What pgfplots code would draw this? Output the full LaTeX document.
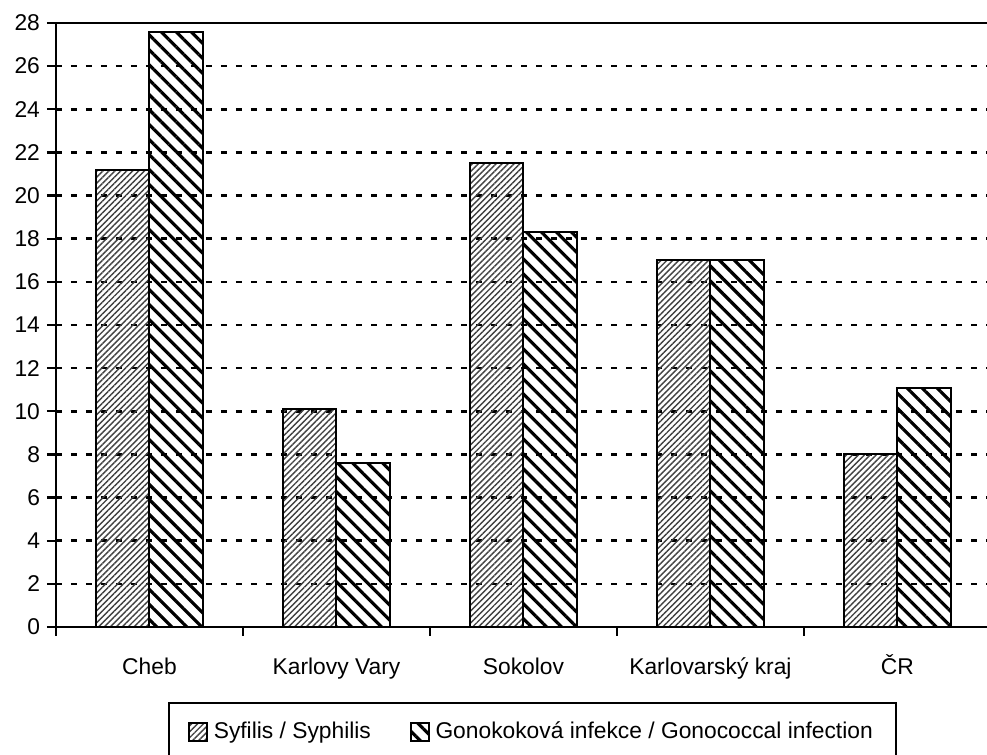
\documentclass[border=0pt]{standalone}
\usepackage{fontspec}
\setmainfont{Liberation Sans}
\usepackage{pgfplots}
\usepackage{pgfplotstable}
\pgfplotsset{compat=1.18}
\usetikzlibrary{patterns.meta}

\pgfplotstableread{
x syph gon
0 21.2 27.6
1 10.1 7.6
2 21.5 18.3
3 17.0 17.0
4 8.0 11.1
}\data

\newcommand{\lblfont}{\fontsize{11.4}{13.7}\selectfont}
\pgfplotsset{
  boxlegend/.style={legend image code/.code={\draw[##1, line width=0.8pt] (0pt,-4.5pt) rectangle (9pt,4.5pt);}},
}

\begin{document}
\begin{tikzpicture}
\begin{axis}[
  at={(0,0)}, anchor=south west,
  scale only axis, width=465.5pt, height=302pt,
  xmin=-0.5, xmax=4.479, ymin=0, ymax=28,
  ytick={0,2,...,28},
  xtick={0,1,2,3,4},
  xticklabels={Cheb, Karlovy Vary, Sokolov, Karlovarský kraj, ČR},
  minor xtick={-0.5,0.5,1.5,2.5,3.5},
  major x tick style={draw=none},
  tick align=outside,
  tick style={black, line width=1.2pt},
  major tick length=4.5pt, minor tick length=4.5pt,
  axis lines*=left,
  axis line style={-, line width=1.3pt, black},
  ymajorgrids,
  grid style={black, line width=1.3pt, dash pattern=on 2.8pt off 4.7pt},
  /pgf/number format/assume math mode=true,
  tick label style={font=\lblfont},
  xticklabel style={yshift=-3.5pt, text height=2.3ex, text depth=0.5ex},
  ybar=0pt,
  legend columns=2,
  legend cell align=left,
  legend style={at={(0.5118,-0.124)}, anchor=north, draw=black, line width=1pt,
    font=\lblfont, inner xsep=9.75pt, inner ysep=7.5pt,
    /tikz/every odd column/.append style={column sep=1pt},
    /tikz/every even column/.append style={column sep=17.5pt}},
]
\addplot[draw=black, line width=1pt, bar width=26.75pt, bar shift=-13.375pt,
  pattern={Lines[angle=45,distance=2.1pt,line width=0.7pt]}, pattern color=black!75,
  boxlegend]
  table[x=x,y=syph]{\data};
\addlegendentry{Syfilis / Syphilis}
\addplot[draw=black, line width=1pt, bar width=26.75pt, bar shift=13.375pt,
  pattern={Lines[angle=-45,distance=5.3pt,line width=1.6pt]}, pattern color=black,
  boxlegend]
  table[x=x,y=gon]{\data};
\addlegendentry{Gonokoková infekce / Gonococcal infection}
\draw[line width=1.3pt] (rel axis cs:0,1) -- (rel axis cs:1,1);
\end{axis}
\pgfresetboundingbox
\useasboundingbox (-28pt,-64pt) rectangle (465.5pt,313.5pt);
\end{tikzpicture}
\end{document}
